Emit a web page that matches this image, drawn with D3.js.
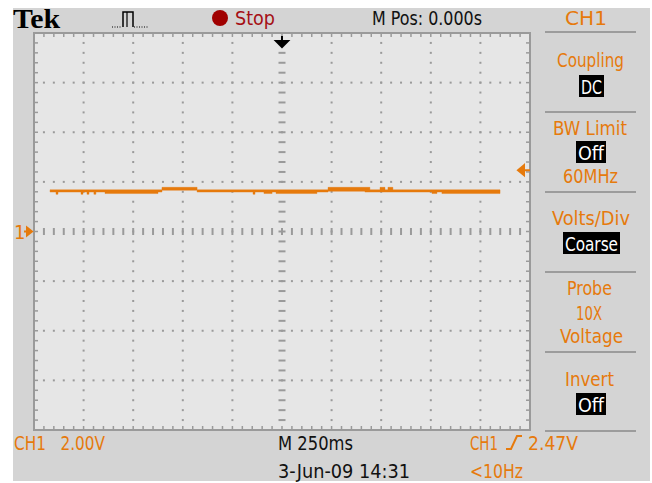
<!DOCTYPE html>
<html><head><meta charset="utf-8">
<script src="https://cdn.jsdelivr.net/npm/d3@7"></script>
<style>html,body{margin:0;padding:0;background:#fff}svg{display:block}</style>
</head><body>
<script>
// ---- data ----
const voltsPerDiv = 2.0;          // CH1 2.00V
const secPerDiv = 0.25;           // M 250ms
const triggerLevel = 2.47;        // CH1 trigger level (V)
// trace envelope (step segments): start time (s), upper & lower envelope (V)
const traceTime = [-1.169,-1.139,-1.129,-1.013,-1.003,-0.983,-0.973,-0.948,-0.938,-0.892,-0.625,-0.605,-0.428,-0.146,-0.136,-0.091,-0.050,-0.030,0.176,0.232,0.418,0.443,0.494,0.519,0.534,0.559,0.605,0.756,0.781,0.806,1.099];
const traceHigh = [1.68,1.68,1.68,1.68,1.68,1.68,1.68,1.68,1.68,1.68,1.68,1.78,1.68,1.68,1.68,1.68,1.68,1.68,1.68,1.78,1.78,1.68,1.78,1.68,1.78,1.68,1.68,1.68,1.68,1.68,1.68];
const traceLow  = [1.59,1.50,1.59,1.50,1.59,1.50,1.59,1.50,1.59,1.53,1.59,1.66,1.59,1.50,1.59,1.53,1.59,1.53,1.59,1.62,1.59,1.59,1.59,1.59,1.59,1.59,1.59,1.53,1.59,1.53,1.53];
const panelLabels = ["Coupling","BW Limit","60MHz","Volts/Div","Probe","10X","Voltage","Invert"];
const panelBoxes = ["DC","Off","Coarse","Off"];

const W = 652, H = 483;
const orange = "#e67a0c";
const font = "'Liberation Sans Narrow','DejaVu Sans Condensed',sans-serif";
const svg = d3.select("body").append("svg").attr("width", W).attr("height", H);

// background panels
svg.append("rect").attr("x", 13).attr("y", 8).attr("width", 637).attr("height", 473).attr("fill", "#d4d4d4");

const x = d3.scaleLinear().domain([-5*secPerDiv, 5*secPerDiv]).range([34, 530]);
const y = d3.scaleLinear().domain([-4*voltsPerDiv, 4*voltsPerDiv]).range([430, 33]);

svg.append("rect").attr("x", x(-1.25)).attr("y", y(8)).attr("width", x(1.25)-x(-1.25)).attr("height", y(-8)-y(8)).attr("fill", "#e6e6e6");

const g = svg.append("g");
const grey = "#9a9a9a";
const xMinor = d3.range(0, 51).map(i => -1.25 + i*secPerDiv/5);
const yMinor = d3.range(0, 41).map(i => -8 + i*voltsPerDiv/5);
const xMajor = d3.range(1, 10).map(i => -1.25 + i*secPerDiv).filter(v => Math.abs(v) > 1e-9);
const yMajor = d3.range(1, 8).map(i => -8 + i*voltsPerDiv).filter(v => Math.abs(v) > 1e-9);

// grid dots
xMajor.forEach(xv => {
  yMinor.slice(1, -1).forEach(yv => {
    g.append("rect").attr("x", x(xv)-1).attr("y", y(yv)-1).attr("width", 2).attr("height", 2).attr("fill", grey);
  });
});
yMajor.forEach(yv => {
  xMinor.slice(1, -1).forEach(xv => {
    g.append("rect").attr("x", x(xv)-1).attr("y", y(yv)-1).attr("width", 2).attr("height", 2).attr("fill", grey);
  });
});
// centre-axis ticks
xMinor.slice(1, -1).forEach(xv => {
  g.append("line").attr("x1", x(xv)).attr("x2", x(xv)).attr("y1", y(0)-3.5).attr("y2", y(0)+3.5).attr("stroke", grey).attr("stroke-width", 2);
});
yMinor.slice(1, -1).forEach(yv => {
  g.append("line").attr("x1", x(0)-3.5).attr("x2", x(0)+3.5).attr("y1", y(yv)).attr("y2", y(yv)).attr("stroke", grey).attr("stroke-width", 2);
});
// frame ticks
xMinor.slice(1, -1).forEach(xv => {
  g.append("line").attr("x1", x(xv)).attr("x2", x(xv)).attr("y1", y(8)).attr("y2", y(8)+4).attr("stroke", grey).attr("stroke-width", 1.5);
  g.append("line").attr("x1", x(xv)).attr("x2", x(xv)).attr("y1", y(-8)).attr("y2", y(-8)-4).attr("stroke", grey).attr("stroke-width", 1.5);
});
yMinor.slice(1, -1).forEach(yv => {
  g.append("line").attr("x1", x(-1.25)).attr("x2", x(-1.25)+4).attr("y1", y(yv)).attr("y2", y(yv)).attr("stroke", grey).attr("stroke-width", 1.5);
  g.append("line").attr("x1", x(1.25)).attr("x2", x(1.25)-4).attr("y1", y(yv)).attr("y2", y(yv)).attr("stroke", grey).attr("stroke-width", 1.5);
});
g.append("rect").attr("x", x(-1.25)).attr("y", y(8)).attr("width", x(1.25)-x(-1.25)).attr("height", y(-8)-y(8))
  .attr("fill", "none").attr("stroke", grey).attr("stroke-width", 2);

// trace
const pts = traceTime.map((t, i) => ({t, hi: traceHigh[i], lo: traceLow[i]}));
const area = d3.area().x(d => x(d.t)).y0(d => y(d.lo)).y1(d => y(d.hi)).curve(d3.curveStepAfter);
svg.append("path").datum(pts).attr("d", area).attr("fill", orange).attr("stroke", orange).attr("stroke-width", 0.4);

// markers: ground "1", trigger level arrow, trigger position arrow
const y0 = y(0);
svg.append("text").attr("x", 14).attr("y", y0+7).attr("font-family", font).attr("font-size", 20).attr("fill", orange).text("1");
svg.append("path").attr("d", `M24,${y0} L28,${y0} M27,${y0-4} L32,${y0} L27,${y0+4} Z`).attr("stroke", orange).attr("stroke-width", 2).attr("fill", orange);
const yt = y(triggerLevel);
svg.append("path").attr("d", `M530,${yt} L525,${yt} M524,${yt-5} L518,${yt} L524,${yt+5} Z`).attr("stroke", orange).attr("stroke-width", 2).attr("fill", orange);
const xt = x(0);
svg.append("path").attr("d", `M${xt},36 L${xt},41 M${xt-6},41 L${xt+6},41 L${xt},47 Z`).attr("stroke", "#000").attr("stroke-width", 2).attr("fill", "#000");

// top bar
svg.append("text").attr("x", 13).attr("y", 28).attr("font-family", "'Liberation Serif',serif").attr("font-weight", "bold")
  .attr("font-size", 27).attr("textLength", 47).attr("lengthAdjust", "spacingAndGlyphs").attr("fill", "#000").text("Tek");
svg.append("path").attr("d", "M123,27 L123,12 L133,12 L133,27").attr("stroke", "#000").attr("stroke-width", 1.5).attr("fill", "none");
svg.append("path").attr("d", "M127,12 L127,27").attr("stroke", "#000").attr("stroke-width", 1.2).attr("fill", "none");
svg.append("path").attr("d", "M112,27 L122,27 M134,27 L149,27").attr("stroke", "#000").attr("stroke-width", 1.2).attr("stroke-dasharray", "1,1.5").attr("fill", "none");
svg.append("circle").attr("cx", 220).attr("cy", 18).attr("r", 8).attr("fill", "#a00000");
function txt(s, x0, base, w, color, size) {
  return svg.append("text").attr("x", x0).attr("y", base).attr("font-family", font).attr("font-size", size || 20)
    .attr("textLength", w).attr("lengthAdjust", "spacingAndGlyphs").attr("fill", color)
    .style("white-space", "pre").text(s);
}
txt("Stop", 235, 25, 40, "#a50f14");
txt("M Pos: 0.000s", 372, 25, 110, "#111");
txt("CH1", 565, 25, 42, orange);

// right panel separators
[32, 112, 192, 272, 352, 431].forEach(v => {
  svg.append("line").attr("x1", 545).attr("x2", 636).attr("y1", v).attr("y2", v).attr("stroke", "#9c9c9c").attr("stroke-width", 2);
});
const labelPos = [[557, 67, 67], [553, 135, 74], [563, 183, 55], [552, 225, 78], [567, 295, 45], [576, 320, 26], [560, 343, 63], [565, 386, 49]];
panelLabels.forEach((s, i) => txt(s, labelPos[i][0], labelPos[i][1], labelPos[i][2], orange));
const boxPos = [[579, 75, 25, 22], [576, 141, 30, 22], [563, 232, 57, 22], [576, 393, 30, 22]];
panelBoxes.forEach((s, i) => {
  const b = boxPos[i];
  svg.append("rect").attr("x", b[0]).attr("y", b[1]).attr("width", b[2]).attr("height", b[3]).attr("fill", "#000");
  txt(s, b[0]+2, b[1]+b[3]-3, b[2]-4, "#fff", 19);
});

// bottom bar
txt("CH1\u00a0\u00a0\u00a02.00V", 14, 450, 91, orange);
txt("M 250ms", 278, 450, 75, "#111");
txt("3-Jun-09 14:31", 278, 478, 132, "#111");
txt("CH1", 470, 450, 28, orange);
svg.append("path").attr("d", "M506,449 L511,449 L517,436 L522,436").attr("stroke", orange).attr("stroke-width", 2).attr("fill", "none");
txt("2.47V", 528, 450, 50, orange);
txt("<10Hz", 470, 478, 53, orange);
</script>
</body></html>
